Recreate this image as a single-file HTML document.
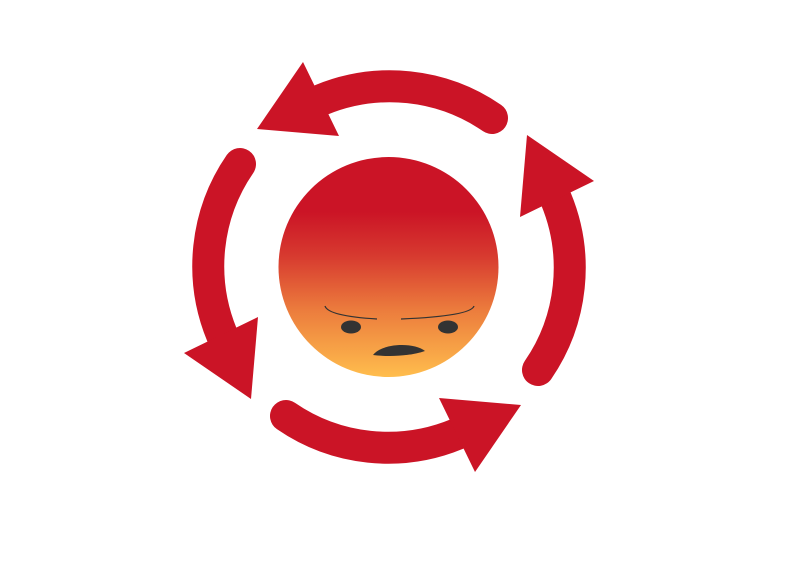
<!DOCTYPE html>
<html><head><meta charset="utf-8"><style>html,body{margin:0;padding:0;background:#fff;}svg{display:block}</style></head>
<body>
<svg width="800" height="566" viewBox="0 0 800 566" xmlns="http://www.w3.org/2000/svg">
<defs>
<linearGradient id="g" x1="0" y1="0" x2="0" y2="1">
<stop offset="0" stop-color="#cb1426"/>
<stop offset="0.25" stop-color="#cb1426"/>
<stop offset="0.45" stop-color="#d73a2f"/>
<stop offset="0.7" stop-color="#ec7d3d"/>
<stop offset="1" stop-color="#ffbd4d"/>
</linearGradient>
<g id="arr">
<path d="M492 118 A180 180 0 0 0 321 100" fill="none" stroke="#cb1426" stroke-width="32" stroke-linecap="round"/>
<polygon points="303,62 257,129 339,136" fill="#cb1426"/>
</g>
</defs>
<use href="#arr"/>
<use href="#arr" transform="rotate(90 389 267)"/>
<use href="#arr" transform="rotate(180 389 267)"/>
<use href="#arr" transform="rotate(270 389 267)"/>
<circle cx="388.5" cy="267" r="110" fill="url(#g)"/>
<path d="M325 306 Q328 316 377 319" fill="none" stroke="#333" stroke-width="1.3"/>
<path d="M474 306 Q471 316 401 319" fill="none" stroke="#333" stroke-width="1.3"/>
<ellipse cx="351" cy="327" rx="10" ry="6.5" fill="#333"/>
<ellipse cx="448" cy="327" rx="10" ry="6.5" fill="#333"/>
<path d="M373 355 C382 343 414 342 425 351 C410 356 390 357 373 355 Z" fill="#333"/>
</svg>
</body></html>
